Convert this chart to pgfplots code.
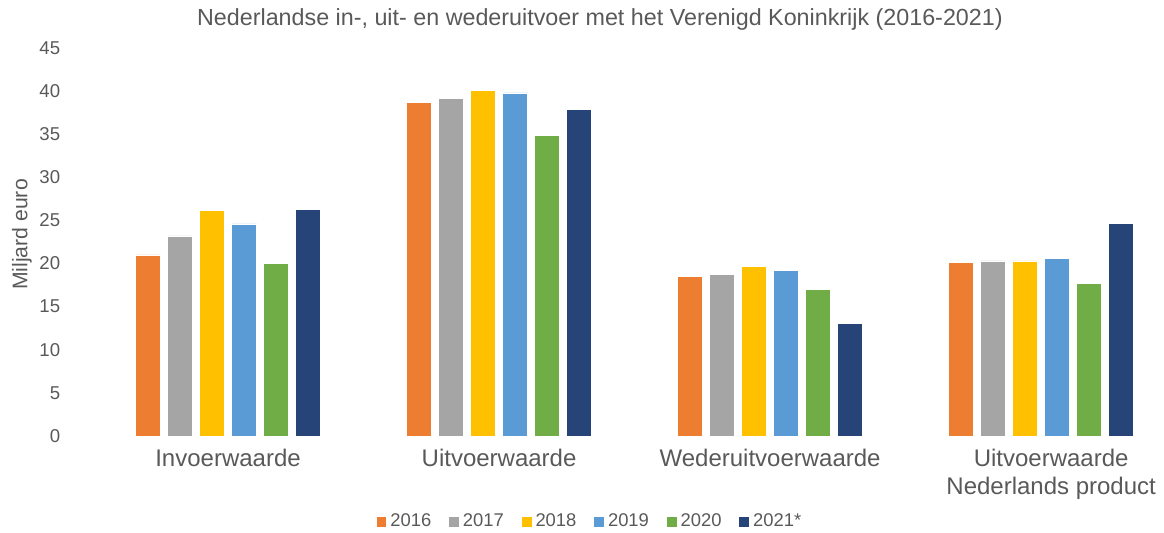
\documentclass[border=0pt]{standalone}
\usepackage{pgfplots}
\pgfplotsset{compat=1.18}
\usepackage{fontspec}
\setmainfont{Liberation Sans}
\definecolor{txt}{HTML}{595959}
\definecolor{c16}{HTML}{ED7D31}
\definecolor{c17}{HTML}{A5A5A5}
\definecolor{c18}{HTML}{FFC000}
\definecolor{c19}{HTML}{5B9BD5}
\definecolor{c20}{HTML}{70AD47}
\definecolor{c21}{HTML}{264478}
\begin{document}
\begin{tikzpicture}
\path[use as bounding box] (-46.25pt,-48.5pt) rectangle (535.75pt,218pt);
\begin{axis}[
  at={(0pt,0pt)}, anchor=south west,
  scale only axis,
  width=531.25pt, height=194pt,
  ybar=3.5pt, bar width=12.5pt,
  xmin=-0.5, xmax=3.42,
  ymin=0, ymax=45,
  ytick={0,5,...,45},
  xtick={0,1,2},
  xticklabels={Invoerwaarde,Uitvoerwaarde,Wederuitvoerwaarde},
  extra x ticks={3},
  extra x tick labels={{Uitvoerwaarde\\Nederlands product}},
  extra x tick style={xticklabel style={xshift=5pt}},
  axis line style={draw=none},
  major tick length=0pt,
  tick style={draw=none},
  /pgf/number format/assume math mode=true,
  yticklabel style={font=\fontsize{9.3}{11}\selectfont, text=txt, inner sep=0pt, anchor=east, xshift=-16pt},
  xticklabel style={font=\fontsize{12}{14}\selectfont, text=txt, inner sep=0pt, anchor=north, yshift=-6.5pt, align=center},
  ylabel={Miljard euro},
  ylabel style={font=\fontsize{10.6}{12}\selectfont, text=txt, at={(axis description cs:-0.0664,0.5193)}, anchor=center, rotate=0},
  title={Nederlandse in-, uit- en wederuitvoer met het Verenigd Koninkrijk (2016-2021)},
  title style={font=\fontsize{11.65}{14}\selectfont, text=txt, at={(axis description cs:0.4776,1.0438)}, anchor=center, inner sep=0pt},
  legend style={at={(axis description cs:0.4692,-0.2216)}, anchor=center, draw=none, fill=none,
    legend columns=6, font=\fontsize{9.2}{11}\selectfont, text=txt,
    /tikz/every even column/.append style={column sep=7pt},
    /tikz/every odd column/.append style={column sep=0pt}},
  legend image code/.code={\fill[#1,draw=none] (0pt,-2.4pt) rectangle (4.8pt,2.4pt);},
  legend cell align=left,
  every axis plot/.append style={draw=white, line width=0.3pt},
  clip=false,
]
\addplot[fill=c16] coordinates {(0,21.0) (1,38.7) (2,18.5) (3,20.1)};
\addplot[fill=c17] coordinates {(0,23.2) (1,39.2) (2,18.7) (3,20.3)};
\addplot[fill=c18] coordinates {(0,26.2) (1,40.1) (2,19.7) (3,20.3)};
\addplot[fill=c19] coordinates {(0,24.6) (1,39.8) (2,19.2) (3,20.6)};
\addplot[fill=c20] coordinates {(0,20.0) (1,34.9) (2,17.0) (3,17.7)};
\addplot[fill=c21] coordinates {(0,26.3) (1,37.9) (2,13.1) (3,24.7)};
\legend{2016,2017,2018,2019,2020,2021*}
\end{axis}
\end{tikzpicture}
\end{document}
